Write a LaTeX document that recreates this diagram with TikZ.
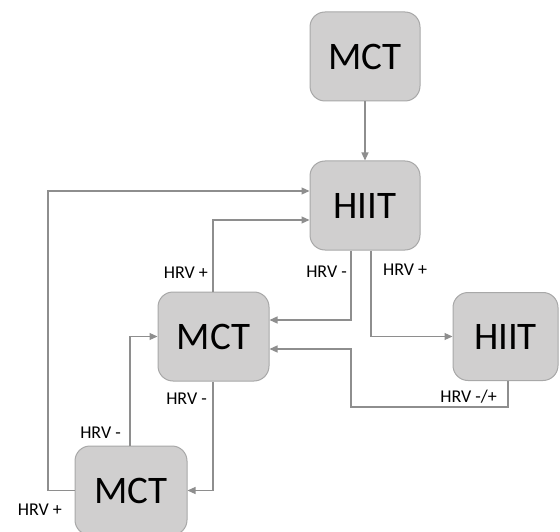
\documentclass[tikz,border=0pt]{standalone}
\usepackage{fontspec}
\setmainfont{Carlito}
\usetikzlibrary{arrows.meta,calc}
\definecolor{boxfill}{HTML}{D0CFCF}
\definecolor{boxline}{HTML}{A8A8A8}
\definecolor{conncol}{HTML}{8E8E8E}
\tikzset{
  stage/.style={draw=boxline, fill=boxfill, line width=1pt, rounded corners=15pt,
    minimum width=110pt, minimum height=89pt, inner sep=0pt,
    font=\fontsize{39}{41}\selectfont, text=black},
  conn/.style={draw=conncol, line width=1.2pt},
  arr/.style={conn, -{Triangle[length=8pt,width=7pt]}},
  lbl/.style={font=\fontsize{18}{20}\selectfont, text=black, inner sep=0pt}
}
\begin{document}
\begin{tikzpicture}[x=1pt,y=-1pt]
\useasboundingbox (0,0) rectangle (560,532);
\node[stage] (mct1) at (365,56.5) {MCT};
\node[stage] (hiit1) at (365,205.5) {HIIT};
\node[stage, minimum width=111pt] (mct2) at (213.5,336.5) {MCT};
\node[stage, minimum width=105pt, minimum height=88pt] (hiit2) at (505.5,336.5) {HIIT};
\node[stage, minimum width=112pt] (mct3) at (131,490.5) {MCT};

\draw[arr] (mct1.south) -- (hiit1.north);
\draw[arr] ([xshift=-14pt]hiit1.south) |- ([yshift=16.5pt]mct2.east);
\draw[arr] ([xshift=6pt]hiit1.south) |- (hiit2.west);
\coordinate (c1) at (351,407);
\draw[arr] ([xshift=2.5pt]hiit2.south) |- (c1) |- ([yshift=-12.5pt]mct2.east);
\draw[arr] ([xshift=-0.5pt]mct2.north) |- ([yshift=-14.5pt]hiit1.west);
\coordinate (c2) at (48,191);
\draw[arr] (mct3.west) -| (c2) -- ([yshift=14.5pt]hiit1.west);
\draw[arr] ([xshift=-1pt]mct3.north) |- (mct2.west);
\draw[arr] ([xshift=-0.5pt]mct2.south) |- (mct3.east);

\node[lbl, anchor=east] (l1) at (347,272) {HRV -};
\node[lbl, anchor=west] (l2) at (383,270) {HRV +};
\node[lbl, anchor=east] (l3) at (208,273) {HRV +};
\node[lbl, anchor=east] (l4) at (207,399) {HRV -};
\node[lbl, anchor=east] (l5) at (121,433) {HRV -};
\node[lbl, anchor=east] (l6) at (62,510) {HRV +};
\node[lbl, anchor=east] (l7) at (497,397) {HRV -/+};
\end{tikzpicture}
\end{document}
